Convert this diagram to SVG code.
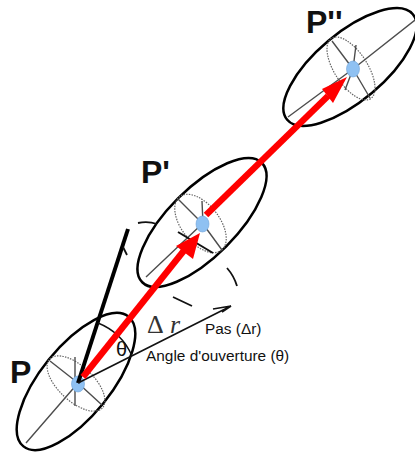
<svg xmlns="http://www.w3.org/2000/svg" width="415" height="454" viewBox="0 0 415 454">
<style>
.outer{fill:none;stroke:#000;stroke-width:2.500}
.dot{fill:none;stroke:#666;stroke-width:1.200;stroke-dasharray:1.500 1.200}
.sp{fill:none;stroke:#4d4d4d;stroke-width:1.400}
.c{fill:#8fc1f2;stroke:#6fa3d8;stroke-width:.6}
.red{fill:none;stroke:#f00;stroke-width:6.500}
.rh{fill:#f00}
.lbl{font-family:"Liberation Sans",Arial,sans-serif;fill:#111}
.big{font-size:32px;font-weight:bold}
.sm{font-size:15.400px}
</style>
<g id="node-p">
<ellipse class="outer" cx="76" cy="381.500" rx="83.500" ry="35" transform="rotate(-51 76 381.500)"/>
<ellipse class="dot" cx="76" cy="383.500" rx="36" ry="17.500" transform="rotate(43 76 383.500)"/>
<path class="sp" d="M78 383L26 443M78 383L50 361M78 383L102 405M75 357V406"/>
<ellipse class="c" cx="78" cy="384" rx="6.500" ry="8"/>
<text class="lbl big" x="10" y="383">P</text>
</g>
<g id="node-p1">
<ellipse class="outer" cx="202" cy="222.500" rx="84.500" ry="34" transform="rotate(-45 202 222.500)"/>
<ellipse class="dot" cx="200.500" cy="223.500" rx="34" ry="19" transform="rotate(52 200.500 223.500)"/>
<path class="sp" d="M202 224L146 277M203 224L178 199M203 224L222 250M203 224L202 201"/>
<path d="M178 232L213 253" fill="none" stroke="#111" stroke-width="2"/>
<ellipse class="c" cx="202.500" cy="224" rx="6.500" ry="8"/>
<text class="lbl big" x="141" y="183">P'</text>
</g>
<g id="node-p2">
<ellipse class="outer" cx="350" cy="67" rx="82" ry="34" transform="rotate(-40 350 67)"/>
<ellipse class="dot" cx="351" cy="68.500" rx="36" ry="16.500" transform="rotate(57 351 68.500)"/>
<path class="sp" d="M353 69L288 117M353 69L415 20M353 69L332 41M353 69L370 98M353 69L356 45M353 69L345 90"/>
<ellipse class="c" cx="353" cy="69" rx="6.500" ry="8"/>
<text class="lbl big" x="306" y="33">P''</text>
</g>
<g id="connectors">
<path d="M78 383L128 229" fill="none" stroke="#000" stroke-width="4"/>
<path d="M78 383L231 306M213 309L231 306L222 312" fill="none" stroke="#111" stroke-width="1.600"/>
<path d="M98 323A62 62 0 0 1 132 356" fill="none" stroke="#111" stroke-width="1.400"/>
<path d="M138 223Q148 221 157 224M123 247L127 255M173 297L192 306M227 268Q234 276 237 286" fill="none" stroke="#111" stroke-width="1.800"/>
<path class="red" d="M83 377L186 248"/>
<path class="rh" d="M200 233L176 246L193 259Z"/>
<path class="red" d="M206 215L328 96"/>
<path class="rh" d="M347 77L322 89L333 103Z"/>
</g>
<g id="labels">
<text x="147" y="333" font-family="'Liberation Serif',serif" font-size="26" fill="#333">Δ</text>
<text x="170" y="333" font-family="'Liberation Serif',serif" font-style="italic" font-size="26" fill="#333">r</text>
<text class="lbl" x="116" y="356" font-size="20">θ</text>
<text class="lbl sm" x="205" y="334">Pas (Δr)</text>
<text class="lbl sm" x="146" y="361">Angle d'ouverture (θ)</text>
</g>
</svg>
